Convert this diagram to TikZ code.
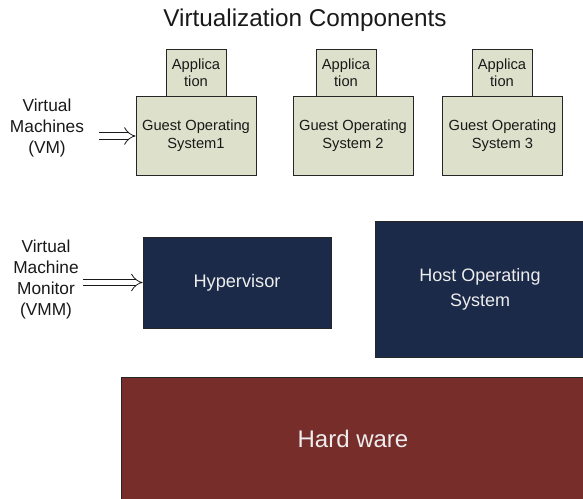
\documentclass[tikz,border=0pt]{standalone}
\usepackage{fontspec}
\setmainfont{Liberation Sans}
\usetikzlibrary{arrows.meta}
\definecolor{guestfill}{HTML}{DDE1CB}
\definecolor{navyfill}{HTML}{1B2A48}
\definecolor{hwfill}{HTML}{772E2A}
\tikzset{
  box/.style={draw=black!85, line width=0.7pt, inner sep=0pt, align=center},
  guest/.style={box, fill=guestfill, text=black!90},
  dark/.style={box, fill=navyfill, text=white!93!black},
  sidelabel/.style={align=center, text=black!90, font=\fontsize{17.3}{21}\selectfont},
  dbl/.style={double, line width=0.8pt, double distance=5.5pt, -{Implies}, black!90}
}
\begin{document}
\begin{tikzpicture}[x=1pt,y=-1pt]
    \useasboundingbox (0,0) rectangle (583,498);
    \clip (0,0) rectangle (583,498);
    % title
    \node (title) at (305,20) [text=black!90, font=\fontsize{24.3}{28}\selectfont] {Virtualization Components};
    % guest machines
    \node (gos1) at (196,135.5) [guest, minimum width=120pt, minimum height=79pt,
        font=\fontsize{14.7}{18}\selectfont] {Guest Operating\\System1};
    \node (gos2) at (353,135.5) [guest, minimum width=120pt, minimum height=79pt,
        font=\fontsize{14.7}{18}\selectfont] {Guest Operating\\System 2};
    \node (gos3) at (502.5,135.5) [guest, minimum width=120pt, minimum height=79pt,
        font=\fontsize{14.7}{18}\selectfont] {Guest Operating\\System 3};
    \foreach \g/\x in {1/196,2/346,3/502}
        \node (app\g) at (\x,72.5) [guest, minimum width=60pt, minimum height=47pt,
            font=\fontsize{14.7}{17}\selectfont] {Applica\\tion};
    % hypervisor and host
    \node (hyp) at (237,282.5) [dark, minimum width=188pt, minimum height=91pt,
        font=\fontsize{18.2}{22}\selectfont] {Hypervisor};
    \node (host) at (480,289) [dark, minimum width=210pt, minimum height=136pt,
        font=\fontsize{18}{25}\selectfont] {Host Operating\\System};
    % hardware
    \node (hw) at (353,438.5) [box, fill=hwfill, text=white!93!black,
        minimum width=464pt, minimum height=123pt,
        font=\fontsize{24}{28}\selectfont] {Hard ware};
    % side labels
    \node (vm) at (47,128) [sidelabel] {Virtual\\Machines\\(VM)};
    \node (vmm) at (46,280) [sidelabel] {Virtual\\Machine\\Monitor\\(VMM)};
    \coordinate (vmtail) at (99,136);
    \coordinate (vmmtail) at (83,282.5);
    \draw[dbl] (vmtail) -- (gos1.west |- vmtail);
    \draw[dbl] (vmmtail) -- (hyp.west);
\end{tikzpicture}
\end{document}
